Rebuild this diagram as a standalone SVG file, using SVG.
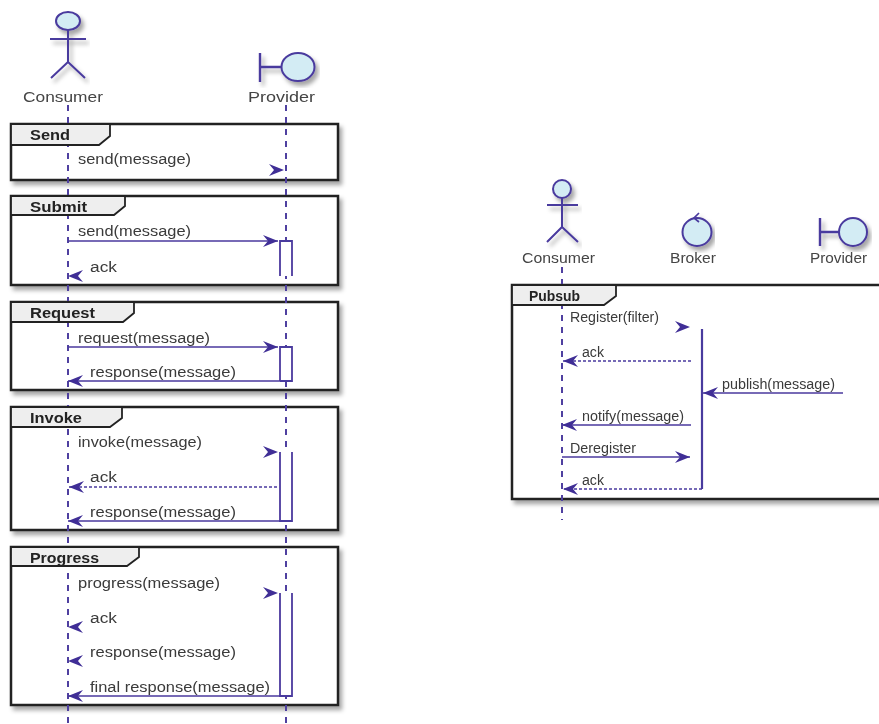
<svg xmlns="http://www.w3.org/2000/svg" width="879" height="724" viewBox="0 0 879 724">
<defs>
<style>
text{font-family:"Liberation Sans",Arial,sans-serif;fill:#3a3a3a;font-size:14px}
.part{font-size:14px;fill:#444}
.ttl{font-size:14px;font-weight:bold;fill:#222}
.life{stroke:#5040a0;stroke-width:2;stroke-dasharray:6 6;fill:none}
.ln{stroke:#4a3a9e;stroke-width:1.7;fill:none}
.dash{stroke:#4a3a9e;stroke-width:1.4;stroke-dasharray:3 2;fill:none}
.ghost{stroke:none;fill:none}
.shape{stroke:#4a3a9e;stroke-width:2;fill:#d3ecf4}
.act{stroke:#4a3a9e;stroke-width:1.8;fill:#fff}
.frame{stroke:#222;stroke-width:2.5;fill:#fff}
.tab{stroke:#222;stroke-width:1.8;fill:#eeeeee}
</style>
<marker id="h" markerUnits="userSpaceOnUse" markerWidth="18" markerHeight="14" refX="16" refY="7" orient="auto"><path d="M16,7 L1,1 L6,7 L1,13Z" fill="#3f2f96"/></marker>
<filter id="soft" x="-2%" y="-2%" width="104%" height="104%"><feGaussianBlur stdDeviation="0.55"/></filter>
<filter id="sh" x="-10%" y="-10%" width="120%" height="130%"><feDropShadow dx="3" dy="4" stdDeviation="2" flood-color="#000" flood-opacity="0.35"/></filter>
</defs>
<rect width="879" height="724" fill="#fff"/>
<g filter="url(#soft)">
<g id="frames">
<rect class="frame" filter="url(#sh)" x="11" y="124" width="327" height="56"/>
<rect class="frame" filter="url(#sh)" x="11" y="196" width="327" height="89"/>
<rect class="frame" filter="url(#sh)" x="11" y="302" width="327" height="88"/>
<rect class="frame" filter="url(#sh)" x="11" y="407" width="327" height="123"/>
<rect class="frame" filter="url(#sh)" x="11" y="547" width="327" height="158"/>
<rect class="frame" filter="url(#sh)" x="512" y="285" width="372" height="214"/>
</g>
<g id="connectors">
<path class="life" d="M68,105V724"/>
<path class="life" d="M286,105V724"/>
<path class="life" d="M562,267V520"/>
<path class="act" d="M280,276V241H292V276"/>
<path class="act" d="M280,381V347H292V381H280"/>
<path class="act" d="M280,452V521H292V452"/>
<path class="act" d="M280,593V696H292V593"/>
<path class="act" d="M702,329V489" style="stroke-width:2.2"/>
<path class="ghost" d="M260,170H284" marker-end="url(#h)"/>
<path class="ln" d="M68,241H278" marker-end="url(#h)"/>
<path class="ghost" d="M90,276H68" marker-end="url(#h)"/>
<path class="ln" d="M68,347H278" marker-end="url(#h)"/>
<path class="ln" d="M280,381H68" marker-end="url(#h)"/>
<path class="ghost" d="M260,452H278" marker-end="url(#h)"/>
<path class="dash" d="M277,487H69" marker-end="url(#h)"/>
<path class="ln" d="M280,521H68" marker-end="url(#h)"/>
<path class="ghost" d="M260,593H278" marker-end="url(#h)"/>
<path class="ghost" d="M90,627H68" marker-end="url(#h)"/>
<path class="ghost" d="M90,661H68" marker-end="url(#h)"/>
<path class="ln" d="M280,696H68" marker-end="url(#h)"/>
<path class="ghost" d="M670,327H690" marker-end="url(#h)"/>
<path class="dash" d="M691,361H563" marker-end="url(#h)"/>
<path class="ln" d="M843,393H703" marker-end="url(#h)"/>
<path class="ln" d="M691,425H562" marker-end="url(#h)"/>
<path class="ln" d="M562,457H690" marker-end="url(#h)"/>
<path class="dash" d="M702,489H563" marker-end="url(#h)"/>
</g>
<g id="frame-tabs">
<g id="frame-send"><path class="tab" d="M11,124H110V136L99,145H11Z"/><text class="ttl" x="30" y="140" textLength="40" lengthAdjust="spacingAndGlyphs">Send</text></g>
<g id="frame-submit"><path class="tab" d="M11,196H125V206L114,215H11Z"/><text class="ttl" x="30" y="212" textLength="57" lengthAdjust="spacingAndGlyphs">Submit</text></g>
<g id="frame-request"><path class="tab" d="M11,302H134V313L123,322H11Z"/><text class="ttl" x="30" y="318" textLength="65" lengthAdjust="spacingAndGlyphs">Request</text></g>
<g id="frame-invoke"><path class="tab" d="M11,407H122V418L110,427H11Z"/><text class="ttl" x="30" y="423" textLength="52" lengthAdjust="spacingAndGlyphs">Invoke</text></g>
<g id="frame-progress"><path class="tab" d="M11,547H139V557L127,566H11Z"/><text class="ttl" x="30" y="563" textLength="69" lengthAdjust="spacingAndGlyphs">Progress</text></g>
<g id="frame-pubsub"><path class="tab" d="M512,285H616V296L604,305H512Z"/><text class="ttl" x="529" y="301" textLength="51" lengthAdjust="spacingAndGlyphs">Pubsub</text></g>
</g>
<g id="messages">
<text x="78" y="164" textLength="113" lengthAdjust="spacingAndGlyphs">send(message)</text>
<text x="78" y="236" textLength="113" lengthAdjust="spacingAndGlyphs">send(message)</text>
<text x="90" y="272" textLength="27" lengthAdjust="spacingAndGlyphs">ack</text>
<text x="78" y="343" textLength="132" lengthAdjust="spacingAndGlyphs">request(message)</text>
<text x="90" y="377" textLength="146" lengthAdjust="spacingAndGlyphs">response(message)</text>
<text x="78" y="447" textLength="124" lengthAdjust="spacingAndGlyphs">invoke(message)</text>
<text x="90" y="482" textLength="27" lengthAdjust="spacingAndGlyphs">ack</text>
<text x="90" y="517" textLength="146" lengthAdjust="spacingAndGlyphs">response(message)</text>
<text x="78" y="588" textLength="142" lengthAdjust="spacingAndGlyphs">progress(message)</text>
<text x="90" y="623" textLength="27" lengthAdjust="spacingAndGlyphs">ack</text>
<text x="90" y="657" textLength="146" lengthAdjust="spacingAndGlyphs">response(message)</text>
<text x="90" y="692" textLength="180" lengthAdjust="spacingAndGlyphs">final response(message)</text>
<text x="570" y="322" textLength="89" lengthAdjust="spacingAndGlyphs">Register(filter)</text>
<text x="582" y="357" textLength="22" lengthAdjust="spacingAndGlyphs">ack</text>
<text x="722" y="389" textLength="113" lengthAdjust="spacingAndGlyphs">publish(message)</text>
<text x="582" y="421" textLength="102" lengthAdjust="spacingAndGlyphs">notify(message)</text>
<text x="570" y="453" textLength="66" lengthAdjust="spacingAndGlyphs">Deregister</text>
<text x="582" y="485" textLength="22" lengthAdjust="spacingAndGlyphs">ack</text>
</g>
<g id="consumer-left">
<g filter="url(#sh)"><ellipse class="shape" cx="68" cy="21" rx="12" ry="9"/><path class="ln" style="stroke-width:2" d="M68,30V62M50,39H86M68,62L51,78M68,62L85,78"/></g>
<text class="part" x="23" y="102" textLength="80" lengthAdjust="spacingAndGlyphs">Consumer</text>
</g>
<g id="provider-left">
<g filter="url(#sh)"><path class="ln" style="stroke-width:2.4" d="M260,53V82M260,67H281"/><ellipse class="shape" cx="298" cy="67" rx="16.500" ry="14"/></g>
<text class="part" x="248" y="102" textLength="67" lengthAdjust="spacingAndGlyphs">Provider</text>
</g>
<g id="consumer-right">
<g filter="url(#sh)"><ellipse class="shape" cx="562" cy="189" rx="9" ry="9"/><path class="ln" style="stroke-width:2" d="M562,198V227M547,205H578M562,227L547,242M562,227L578,242"/></g>
<text class="part" x="522" y="263" textLength="73" lengthAdjust="spacingAndGlyphs">Consumer</text>
</g>
<g id="broker">
<g filter="url(#sh)"><ellipse class="shape" cx="697" cy="232" rx="14.500" ry="14"/><path class="ln" d="M699,213L694,218L699,222"/></g>
<text class="part" x="670" y="263" textLength="46" lengthAdjust="spacingAndGlyphs">Broker</text>
</g>
<g id="provider-right">
<g filter="url(#sh)"><path class="ln" style="stroke-width:2.4" d="M820,218V246M820,232H840"/><ellipse class="shape" cx="853" cy="232" rx="14" ry="14"/></g>
<text class="part" x="810" y="263" textLength="57" lengthAdjust="spacingAndGlyphs">Provider</text>
</g>
</g>
</svg>
